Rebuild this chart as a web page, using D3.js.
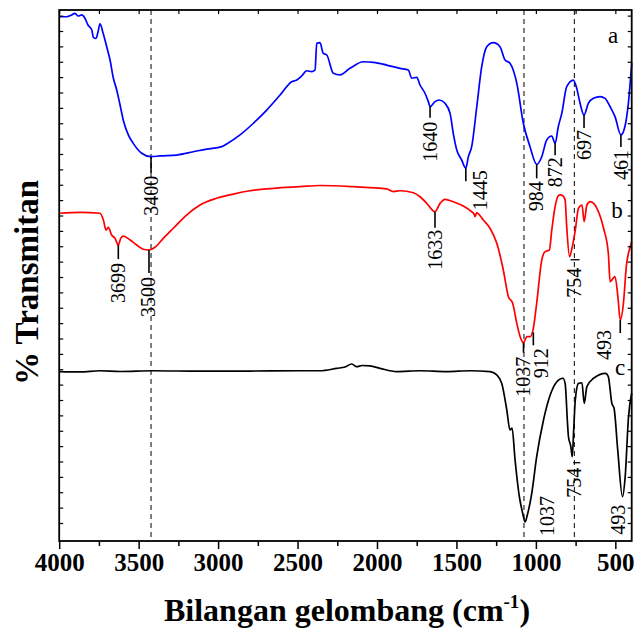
<!DOCTYPE html>
<html>
<head>
<meta charset="utf-8">
<script src="https://cdn.jsdelivr.net/npm/d3@7"></script>
<style>
  body { margin: 0; background: #fff; }
  svg { display: block; }
</style>
</head>
<body>
<svg id="chart" width="635" height="633"></svg>
<script>
// FTIR spectra: [wavenumber (cm-1), transmittance (stacked, arbitrary units)]
const spectrumA = [
  [4000,34.95],[3953,34.95],[3921,35.07],[3901,35.17],[3880,35.0],[3858,35.07],[3838,34.85],
  [3819,34.4],[3795,34.07],[3785,33.58],[3768,33.51],[3756,33.93],[3743,34.47],[3724,33.87],
  [3701,32.95],[3680,32.07],[3659,30.85],[3638,30.07],[3617,29.07],[3597,28.07],[3565,27.07],
  [3534,26.51],[3481,25.85],[3422,25.62],[3365,25.67],[3260,25.73],[3156,25.95],[3072,26.13],
  [2977,26.29],[2946,26.47],[2862,27.07],[2778,27.85],[2694,28.73],[2610,29.73],[2537,30.62],
  [2505,30.73],[2474,31.0],[2442,31.35],[2411,31.29],[2390,31.4],[2379,33.18],[2359,33.22],
  [2338,32.51],[2316,32.4],[2275,31.18],[2233,31.07],[2170,31.51],[2086,31.95],[2023,31.91],
  [1939,31.73],[1855,31.51],[1803,31.4],[1781,30.85],[1750,30.91],[1729,30.4],[1698,29.85],
  [1677,29.29],[1666,28.95],[1635,29.29],[1608,29.4],[1572,29.18],[1540,28.51],[1520,27.18],
  [1498,26.07],[1467,25.4],[1441,24.85],[1425,25.62],[1404,26.29],[1372,28.95],[1341,31.62],
  [1309,32.95],[1268,33.22],[1226,32.95],[1194,32.07],[1163,31.85],[1120,30.51],[1079,27.85],
  [1037,26.29],[995,25.11],[963,25.62],[932,26.73],[900,27.0],[879,26.51],[859,27.62],
  [837,28.51],[806,30.29],[764,30.73],[743,30.18],[722,29.18],[697,28.4],[670,29.18],
  [638,29.51],[596,29.62],[565,29.51],[533,28.95],[502,28.29],[465,27.07],[440,27.62],
  [418,29.18],[397,31.85]
];

const spectrumB = [
  [4000,21.85],[3869,21.91],[3743,21.85],[3722,21.4],[3705,20.73],[3691,20.91],[3670,20.4],
  [3649,20.18],[3628,19.73],[3613,20.18],[3597,20.33],[3554,20.07],[3512,19.73],[3471,19.45],
  [3435,19.4],[3397,19.58],[3345,20.18],[3282,20.85],[3198,21.73],[3114,22.4],[3009,22.85],
  [2904,23.13],[2799,23.35],[2652,23.51],[2484,23.62],[2359,23.7],[2149,23.62],[1939,23.47],
  [1897,23.29],[1855,23.35],[1771,23.22],[1729,22.95],[1687,22.51],[1635,21.95],[1603,22.51],
  [1572,22.78],[1520,22.62],[1457,22.33],[1404,21.95],[1389,21.8],[1383,21.62],[1373,21.87],
  [1331,21.4],[1289,20.85],[1246,19.85],[1205,18.07],[1173,16.29],[1146,15.85],[1120,14.51],
  [1099,13.62],[1078,13.22],[1057,13.62],[1036,13.62],[1016,14.18],[995,15.85],[963,18.73],
  [942,19.29],[915,19.4],[900,20.73],[879,22.29],[860,23.0],[848,23.07],[829,23.0],[816,22.73],
  [806,20.95],[788,18.95],[773,19.51],[752,20.73],[732,22.18],[710,22.4],[696,21.29],[679,22.4],
  [658,22.62],[616,22.18],[574,20.85],[544,19.18],[533,17.29],[513,17.53],[502,17.62],
  [484,16.29],[469,14.73],[449,15.85],[431,18.29],[406,19.62],[397,19.95]
];

const spectrumC = [
  [4000,11.29],[3869,11.27],[3743,11.35],[3617,11.3],[3410,11.35],[3114,11.32],[2799,11.33],
  [2484,11.35],[2359,11.35],[2253,11.51],[2201,11.6],[2159,11.8],[2128,11.62],[2094,11.7],
  [2044,11.67],[1981,11.51],[1876,11.29],[1729,11.35],[1561,11.29],[1415,11.35],[1289,11.29],
  [1246,11.07],[1215,10.51],[1183,8.73],[1163,7.4],[1150,7.53],[1131,5.4],[1104,2.95],
  [1083,1.85],[1068,1.27],[1054,1.73],[1026,3.18],[995,5.62],[952,8.07],[910,9.73],
  [868,10.62],[830,10.85],[816,10.51],[801,7.85],[795,6.95],[780,6.29],[771,5.62],[763,7.18],
  [752,9.4],[732,10.51],[710,10.55],[696,9.18],[679,10.29],[637,10.85],[561,11.18],
  [544,10.95],[522,9.18],[508,8.85],[485,6.07],[455,2.95],[438,4.29],[417,8.29],[397,9.85]
];

// band assignments: where each marker sits, and the label it carries
const peaksA = [
  {wn: 3422, text: "3400"}, {wn: 1666, text: "1640"}, {wn: 1441, text: "1445"},
  {wn: 995, text: "984"}, {wn: 879, text: "872"}, {wn: 697, text: "697"}, {wn: 465, text: "461"}
];
const peaksB = [
  {wn: 3628, text: "3699"}, {wn: 3435, text: "3500"}, {wn: 1635, text: "1633"},
  {wn: 1078, text: "1037"}, {wn: 1016, text: "912"}, {wn: 788, text: "754"}, {wn: 469, text: "493"}
];
const peaksC = [
  {wn: 1068, text: "1037"}, {wn: 771, text: "754"}, {wn: 455, text: "493"}
];

// reference wavenumbers marked with dashed guide lines
const guideLines = [3422, 1075, 758];

const xTicksMajor = [4000, 3500, 3000, 2500, 2000, 1500, 1000, 500];
const xTicksMinor = [3750, 3250, 2750, 2250, 1750, 1250, 750];

const seriesNames = ["a", "b", "c"];
const seriesColors = ["#0000ff", "#ff0000", "#000000"];

// ---- layout ----
const svg = d3.select("#chart");
const plot = {left: 59.2, right: 631.7, top: 10, bottom: 541};

const x = d3.scaleLinear().domain([4000, 397]).range([plot.left, plot.right]);
const y = d3.scaleLinear().domain([0, 35.4]).range([plot.bottom, plot.top]);

const serif = "'Liberation Serif', 'Times New Roman', serif";

// label placement: lead = marker length, gap = space to text, dx = text shift, kind = marker style
const labelLayout = {
  a: [
    {lead: 16, gap: 3, dx: 0}, {lead: 11, gap: 4, dx: 0}, {lead: 13, gap: -11, dx: 15},
    {lead: 14, gap: 3, dx: 0}, {lead: 12, gap: 2, dx: 0}, {lead: 13, gap: 2, dx: 0},
    {lead: 12, gap: 3, dx: 0}
  ],
  b: [
    {lead: 14, gap: 4, dx: 0}, {lead: 23, gap: 4, dx: -1}, {lead: 16, gap: 2, dx: 0},
    {lead: 10, gap: 4, dx: 0}, {start: 4, lead: 17, gap: 3, dx: 8},
    {kind: "h", drop: 3, len: 9, gap: 8, dx: 5}, {lead: 13, gap: -3, dx: -16}
  ],
  c: [
    {lead: 0, gap: -26, dx: 22}, {kind: "h", drop: 6, len: 7, gap: 5, dx: 2},
    {lead: 0, gap: 8, dx: -4}
  ]
};

// linear interpolation along a spectrum (wavenumbers descending)
function valueAt(data, wn) {
  for (let i = 0; i < data.length - 1; i++) {
    const [w0, v0] = data[i], [w1, v1] = data[i + 1];
    if (wn <= w0 && wn >= w1) {
      const t = (w0 - wn) / (w0 - w1);
      return v0 + t * (v1 - v0);
    }
  }
  return data[data.length - 1][1];
}

// ---- guide lines ----
svg.append("g").selectAll("line").data(guideLines).join("line")
  .attr("x1", d => x(d)).attr("x2", d => x(d))
  .attr("y1", plot.top).attr("y2", plot.bottom)
  .attr("stroke", "#000").attr("stroke-width", 1)
  .attr("stroke-dasharray", "5,4");

// ---- spectra ----
const line = d3.line()
  .x(d => x(d[0])).y(d => y(d[1]))
  .curve(d3.curveMonotoneX);

const spectra = [spectrumA, spectrumB, spectrumC];
svg.append("g").selectAll("path").data(spectra).join("path")
  .attr("d", line)
  .attr("fill", "none")
  .attr("stroke", (d, i) => seriesColors[i])
  .attr("stroke-width", 1.7)
  .attr("stroke-linejoin", "round");

// ---- band labels ----
function drawPeaks(data, peaks, layout) {
  const g = svg.append("g");
  peaks.forEach((p, i) => {
    const L = layout[i];
    const px = x(p.wn);
    const py = y(valueAt(data, p.wn));
    let textTop;
    if (L.kind === "h") {
      const yy = py + L.drop;
      g.append("line")
        .attr("x1", px + 1).attr("x2", px + 1 + L.len)
        .attr("y1", yy).attr("y2", yy)
        .attr("stroke", "#000").attr("stroke-width", 1.3);
      textTop = yy + L.gap;
    } else {
      const y0 = py + (L.start || 0);
      const y1 = py + L.lead;
      if (L.lead > 0) {
        g.append("line")
          .attr("x1", px).attr("x2", px)
          .attr("y1", y0).attr("y2", y1)
          .attr("stroke", "#000").attr("stroke-width", 1.6);
      }
      textTop = y1 + L.gap;
    }
    g.append("text")
      .attr("transform", `translate(${px + L.dx},${textTop}) rotate(-90)`)
      .attr("text-anchor", "end")
      .attr("dy", "0.33em")
      .attr("font-family", serif)
      .attr("font-size", 20)
      .attr("fill", "#000")
      .text(p.text);
  });
}
drawPeaks(spectrumA, peaksA, labelLayout.a);
drawPeaks(spectrumB, peaksB, labelLayout.b);
drawPeaks(spectrumC, peaksC, labelLayout.c);

// ---- series letters ----
const letterPos = [[613, 43], [617, 218], [620, 375]];
svg.append("g").selectAll("text").data(seriesNames).join("text")
  .attr("x", (d, i) => letterPos[i][0])
  .attr("y", (d, i) => letterPos[i][1])
  .attr("text-anchor", "middle")
  .attr("font-family", serif)
  .attr("font-size", 23)
  .text(d => d);

// ---- axes ----
const yTicks = d3.range(1.2, 35.3, 1.025);

const bottomMajor = svg.append("g")
  .attr("transform", `translate(0,${plot.bottom})`)
  .call(d3.axisBottom(x).tickValues(xTicksMajor).tickSize(8).tickPadding(4).tickFormat(d3.format("d")));
bottomMajor.select(".domain").remove();
bottomMajor.selectAll("line").attr("stroke-width", 1.5);
bottomMajor.selectAll("text")
  .attr("font-family", serif).attr("font-weight", "bold").attr("font-size", 25);

const bottomMinor = svg.append("g")
  .attr("transform", `translate(0,${plot.bottom})`)
  .call(d3.axisBottom(x).tickValues(xTicksMinor).tickSize(5).tickFormat(""));
bottomMinor.select(".domain").remove();
bottomMinor.selectAll("line").attr("stroke-width", 1.5);

const topAxis = svg.append("g")
  .attr("transform", `translate(0,${plot.top})`)
  .call(d3.axisBottom(x).tickValues(xTicksMajor.concat(xTicksMinor)).tickSize(4).tickFormat(""));
topAxis.select(".domain").remove();
topAxis.selectAll("line").attr("stroke-width", 1.2);

const leftAxis = svg.append("g")
  .attr("transform", `translate(${plot.left},0)`)
  .call(d3.axisRight(y).tickValues(yTicks).tickSize(4).tickFormat(""));
leftAxis.select(".domain").remove();
leftAxis.selectAll("line").attr("stroke-width", 1.2);

const rightAxis = svg.append("g")
  .attr("transform", `translate(${plot.right},0)`)
  .call(d3.axisLeft(y).tickValues(yTicks).tickSize(4).tickFormat(""));
rightAxis.select(".domain").remove();
rightAxis.selectAll("line").attr("stroke-width", 1.2);

// frame
svg.append("rect")
  .attr("x", plot.left).attr("y", plot.top)
  .attr("width", plot.right - plot.left).attr("height", plot.bottom - plot.top)
  .attr("fill", "none").attr("stroke", "#000").attr("stroke-width", 1.8);

// ---- axis titles ----
const xTitle = svg.append("text")
  .attr("x", 347).attr("y", 621)
  .attr("text-anchor", "middle")
  .attr("font-family", serif).attr("font-weight", "bold").attr("font-size", 32);
xTitle.append("tspan").text("Bilangan gelombang (cm");
xTitle.append("tspan").attr("font-size", 19).attr("dy", -13).text("-1");
xTitle.append("tspan").attr("dy", 13).text(")");

svg.append("text")
  .attr("transform", `translate(38,${(plot.top + plot.bottom) / 2 + 7}) rotate(-90)`)
  .attr("text-anchor", "middle")
  .attr("font-family", serif).attr("font-weight", "bold").attr("font-size", 33)
  .text("% Transmitan");
</script>
</body>
</html>
